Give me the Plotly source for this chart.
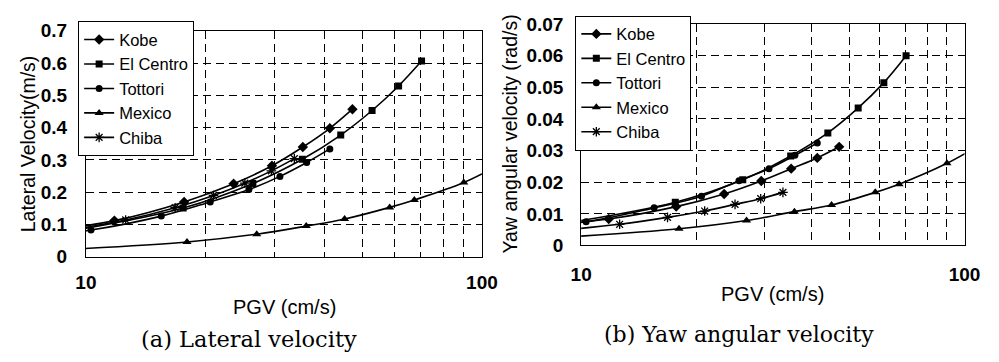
import plotly.graph_objects as go

# ---- data (PGV in cm/s); points just outside 10-100 carry the curves to the frame edge ----
series_names = ["Kobe", "El Centro", "Tottori", "Mexico", "Chiba"]

pgv_kobe = [5.9, 11.8, 17.7, 23.6, 29.5, 35.3, 41.3, 47.1]
lat_kobe = [0.057, 0.112, 0.170, 0.226, 0.282, 0.340, 0.398, 0.457]
yaw_kobe = [0.0050, 0.0084, 0.0123, 0.0163, 0.0204, 0.0243, 0.0277, 0.0312]

pgv_elcentro = [8.8, 17.6, 26.4, 35.2, 44.0, 52.8, 61.6, 70.4]
lat_elcentro = [0.076, 0.151, 0.227, 0.302, 0.377, 0.453, 0.529, 0.606]
yaw_elcentro = [0.0068, 0.0137, 0.0208, 0.0283, 0.0356, 0.0435, 0.0515, 0.0600]

pgv_tottori = [5.15, 10.3, 15.5, 20.6, 25.8, 30.9, 36.1, 41.3]
lat_tottori = [0.042, 0.083, 0.126, 0.170, 0.208, 0.249, 0.292, 0.334]
yaw_tottori = [0.0040, 0.0075, 0.0119, 0.0156, 0.0205, 0.0243, 0.0285, 0.0324]

pgv_mexico = [9.0, 18.0, 27.0, 36.0, 45.0, 58.5, 67.5, 90.0, 112.5]
lat_mexico = [0.023, 0.046, 0.070, 0.095, 0.117, 0.153, 0.176, 0.230, 0.290]
yaw_mexico = [0.0026, 0.0053, 0.0079, 0.0107, 0.0128, 0.0168, 0.0194, 0.0260, 0.0326]

pgv_chiba = [8.4, 12.6, 16.8, 21.0, 25.2, 29.4, 33.6]
lat_chiba = [0.076, 0.114, 0.152, 0.190, 0.228, 0.266, 0.304]
yaw_chiba = [0.0046, 0.0067, 0.0089, 0.0109, 0.0130, 0.0148, 0.0168]

x_tick_vals = [10, 20, 30, 40, 50, 60, 70, 80, 90, 100]
x_tick_text = ["10", "", "", "", "", "", "", "", "", "100"]

# ---- figure ----
W, H = 999, 362
fig = go.Figure()

symbols = {
    "Kobe": dict(symbol="diamond", size=8),
    "El Centro": dict(symbol="square", size=7),
    "Tottori": dict(symbol="circle", size=7),
    "Mexico": dict(symbol="triangle-up", size=8),
    "Chiba": dict(symbol="asterisk", size=8, line=dict(width=1.3, color="black")),
}

left_data = [(pgv_kobe, lat_kobe), (pgv_elcentro, lat_elcentro), (pgv_tottori, lat_tottori),
             (pgv_mexico, lat_mexico), (pgv_chiba, lat_chiba)]
right_data = [(pgv_kobe, yaw_kobe), (pgv_elcentro, yaw_elcentro), (pgv_tottori, yaw_tottori),
              (pgv_mexico, yaw_mexico), (pgv_chiba, yaw_chiba)]

for name, (xs, ys) in zip(series_names, left_data):
    fig.add_trace(go.Scatter(
        x=xs, y=ys, name=name, mode="lines+markers", xaxis="x", yaxis="y",
        line=dict(color="black", width=1.6, shape="spline"),
        marker=dict(color="black", **symbols[name]), legend="legend"))

for name, (xs, ys) in zip(series_names, right_data):
    fig.add_trace(go.Scatter(
        x=xs, y=ys, name=name, mode="lines+markers", xaxis="x2", yaxis="y2",
        line=dict(color="black", width=1.6, shape="spline"),
        marker=dict(color="black", **symbols[name]), legend="legend2"))

def px_x(p):
    return p / W

def px_y(p):
    return 1 - p / H

tickfont = dict(family="Liberation Sans", size=19, color="black", weight="bold")
grid = dict(showgrid=True, gridcolor="black", gridwidth=1, griddash="8px,5px",
            showline=True, mirror=True, linecolor="black", linewidth=1,
            zeroline=False, ticks="outside", ticklen=4, tickcolor="rgba(0,0,0,0)",
            tickfont=tickfont)

L_x0, L_x1, L_yt, L_yb = 77, 484, 22, 262
R_x0, R_x1, R_yt, R_yb = 586, 980, 15, 250

legend_font = dict(size=16.5, family="Liberation Sans", color="black")

fig.update_layout(
    width=W, height=H, margin=dict(l=0, r=0, t=0, b=0),
    paper_bgcolor="white", plot_bgcolor="white",
    font=dict(family="Liberation Sans", color="black"),
    xaxis=dict(type="log", range=[1, 2], domain=[px_x(L_x0), px_x(L_x1)],
               tickvals=x_tick_vals, ticktext=x_tick_text, anchor="y",
               ticklabelstandoff=4, **grid),
    yaxis=dict(range=[0, 0.7], dtick=0.1, domain=[px_y(L_yb), px_y(L_yt)], anchor="x",
               ticklabelstandoff=10, **grid),
    xaxis2=dict(type="log", range=[1, 2], domain=[px_x(R_x0), px_x(R_x1)],
                tickvals=x_tick_vals, ticktext=x_tick_text, anchor="y2",
                ticklabelstandoff=8, **grid),
    yaxis2=dict(range=[0, 0.07], dtick=0.01, domain=[px_y(R_yb), px_y(R_yt)], anchor="x2",
                ticklabelstandoff=9, **grid),
    legend=dict(x=px_x(L_x0 - 8), y=px_y(L_yt - 10), xanchor="left", yanchor="top",
                bordercolor="black", borderwidth=1, bgcolor="white",
                font=legend_font, itemwidth=30, tracegroupgap=0),
    legend2=dict(x=px_x(R_x0 - 6), y=px_y(R_yt - 9), xanchor="left", yanchor="top",
                 bordercolor="black", borderwidth=1, bgcolor="white",
                 font=legend_font, itemwidth=30, tracegroupgap=0),
    showlegend=True,
)

annots = [
    dict(text="Lateral Velocity(m/s)", x=px_x(17), y=px_y(142), textangle=-90, size=19.5, fam="Liberation Sans"),
    dict(text="Yaw angular velocity (rad/s)", x=px_x(513), y=px_y(132), textangle=-90, size=19.5, fam="Liberation Sans"),
    dict(text="PGV (cm/s)", x=px_x(281), y=px_y(315), textangle=0, size=20, fam="Liberation Sans"),
    dict(text="PGV (cm/s)", x=px_x(783), y=px_y(302), textangle=0, size=20, fam="Liberation Sans"),
    dict(text="(a) Lateral velocity", x=px_x(245), y=px_y(349), textangle=0, size=22.5, fam="DejaVu Serif"),
    dict(text="(b) Yaw angular velocity", x=px_x(748), y=px_y(344), textangle=0, size=22, fam="DejaVu Serif"),
]
for a in annots:
    fig.add_annotation(text=a["text"], x=a["x"], y=a["y"], xref="paper", yref="paper",
                       xanchor="center", yanchor="middle", textangle=a["textangle"],
                       showarrow=False, font=dict(family=a["fam"], size=a["size"], color="black"))

fig.write_html("out.html")
